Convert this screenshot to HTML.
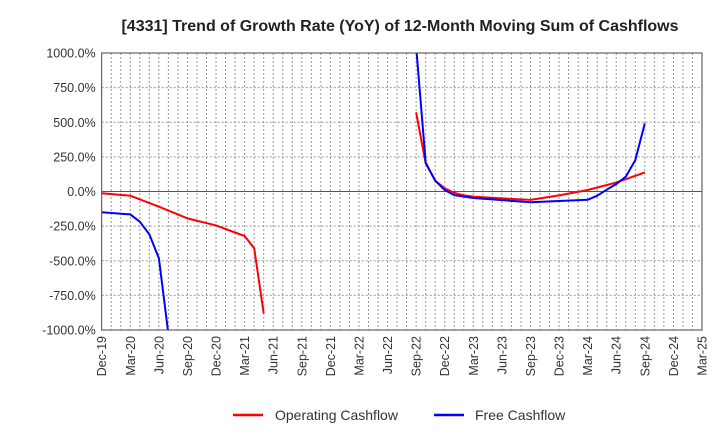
<!DOCTYPE html>
<html><head><meta charset="utf-8"><style>
body{margin:0;background:#fff;}
svg text{font-family:"Liberation Sans",Arial,sans-serif;fill:#333;}
</style></head><body>
<svg id="chart" width="720" height="440">
<text x="400" y="31" text-anchor="middle" font-size="16" font-weight="bold" style="fill:#222">[4331]  Trend of Growth Rate (YoY) of 12-Month Moving Sum of Cashflows</text>
<defs><clipPath id="pc"><rect x="101.7" y="53" width="600.3" height="277"/></clipPath></defs>
<g id="grid"></g>
<g id="series" clip-path="url(#pc)"></g>
<g id="axes"></g>
<g>
<line x1="233" y1="415" x2="263" y2="415" stroke="#f00" stroke-width="2.5"/>
<text x="275" y="420" font-size="14">Operating Cashflow</text>
<line x1="434" y1="415" x2="464" y2="415" stroke="#00f" stroke-width="2.5"/>
<text x="475" y="420" font-size="14">Free Cashflow</text>
</g>
</svg>
<script>
const xLabels=["Dec-19","Mar-20","Jun-20","Sep-20","Dec-20","Mar-21","Jun-21","Sep-21","Dec-21","Mar-22","Jun-22","Sep-22","Dec-22","Mar-23","Jun-23","Sep-23","Dec-23","Mar-24","Jun-24","Sep-24","Dec-24","Mar-25"];
const yTicks=[1000,750,500,250,0,-250,-500,-750,-1000];
const opMonths=[0,3,6,9,12,15,16,17,null,33,34,35,36,37,38,39,42,45,48,51,54,57];
const opValues=[-13,-30,-110,-194,-245,-321,-410,-880,null,572,203,78,23,-10,-28,-37,-50,-61,-28,11,64,138];
const fcfMonths=[0,3,4,5,6,7,null,33,34,35,36,37,39,45,51,52,53,54,55,56,57];
const fcfValues=[-150,-165,-218,-309,-482,-1030,null,1050,208,78,10,-27,-47,-78,-60,-30,13,54,107,227,492];
const X0=101.7,X1=702,Y0=330,Y1=53;
const xs=m=>X0+(X1-X0)*m/63;
const ys=v=>Y0-(v+1000)/2000*(Y0-Y1);
const NS="http://www.w3.org/2000/svg";
function mk(t,a,p){const e=document.createElementNS(NS,t);for(const k in a)e.setAttribute(k,a[k]);p.appendChild(e);return e;}
const grid=document.getElementById('grid'),axes=document.getElementById('axes'),ser=document.getElementById('series');
for(let m=1;m<63;m++){const l=mk('line',{x1:xs(m),x2:xs(m),y1:Y1,y2:Y0,stroke:'#999','stroke-dasharray':'2,2','stroke-width':1},grid);

}
yTicks.forEach(v=>{const l=mk('line',{x1:X0,x2:X1,y1:ys(v),y2:ys(v),stroke:v===0?'#555':'#999','stroke-dasharray':v===0?'':'2,2','stroke-width':1},grid);


const t=mk('text',{x:X0-6,y:ys(v)+4.5,'text-anchor':'end','font-size':12.5},axes);t.textContent=v.toFixed(1)+'%';

});
xLabels.forEach((s,i)=>{const x=xs(i*3);const t=mk('text',{x:0,y:0,'text-anchor':'end','font-size':12.5,transform:`translate(${x+4.5},${Y0+6}) rotate(-90)`},axes);t.textContent=s;

});
const fr=mk('rect',{x:X0,y:Y1,width:X1-X0,height:Y0-Y1,fill:'none',stroke:'#444','stroke-width':1},axes);


function draw(ms,vs,col,name){let segs=[],cur=[];ms.forEach((m,i)=>{if(m===null){if(cur.length)segs.push(cur);cur=[];}else cur.push(xs(m).toFixed(1)+','+ys(vs[i]).toFixed(1));});if(cur.length)segs.push(cur);
segs.forEach(s=>{const p=mk('polyline',{points:s.join(' '),fill:'none',stroke:col,'stroke-width':2},ser);

});}
draw(opMonths,opValues,'#f00','operating-cashflow-line');
draw(fcfMonths,fcfValues,'#00f','free-cashflow-line');
</script>
</body></html>
